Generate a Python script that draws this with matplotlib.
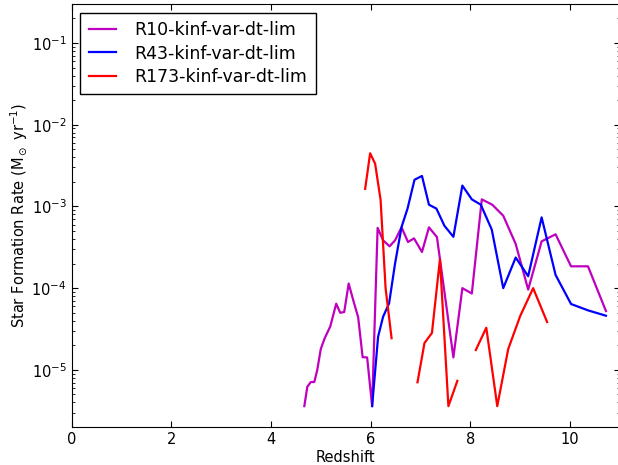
import numpy as np
import matplotlib
matplotlib.use("Agg")
import matplotlib.pyplot as plt

nan = np.nan

# R10-kinf-var-dt-lim
r10_z = [4.67, 4.73, 4.80, 4.87, 4.93, 5.00, 5.08, 5.19, 5.31, 5.39, 5.47, 5.56,
         5.65, 5.75, 5.84, 5.93, 6.03, 6.14, 6.25, 6.38, 6.49, 6.62, 6.75, 6.87,
         7.03, 7.17, 7.33, 7.66, 7.84, 8.03, 8.23, 8.44, 8.66, 8.91, 9.16, 9.43,
         9.71, 10.02, 10.36, 10.72]
r10_sfr = [3.6e-6, 6.2e-6, 7.1e-6, 7.1e-6, 1.0e-5, 1.8e-5, 2.45e-5, 3.4e-5, 6.45e-5,
           5.0e-5, 5.1e-5, 1.14e-4, 7.15e-5, 4.4e-5, 1.43e-5, 1.42e-5, 3.6e-6,
           5.47e-4, 3.85e-4, 3.25e-4, 3.85e-4, 5.55e-4, 3.67e-4, 4.07e-4, 2.77e-4,
           5.55e-4, 4.22e-4, 1.42e-5, 1.0e-4, 8.6e-5, 1.22e-3, 1.05e-3, 7.7e-4,
           3.47e-4, 9.6e-5, 3.74e-4, 4.56e-4, 1.85e-4, 1.85e-4, 5.25e-5]

# R43-kinf-var-dt-lim
r43_z = [6.03, 6.15, 6.25, 6.37, 6.49, 6.62, 6.74, 6.88, 7.03, 7.17, 7.32, 7.48,
         7.66, 7.84, 8.03, 8.21, 8.43, 8.66, 8.91, 9.16, 9.43, 9.71, 10.02, 10.36,
         10.72]
r43_sfr = [3.6e-6, 2.55e-5, 4.47e-5, 6.5e-5, 2.0e-4, 5.6e-4, 9.4e-4, 2.12e-3, 2.36e-3,
           1.05e-3, 9.4e-4, 5.8e-4, 4.25e-4, 1.8e-3, 1.22e-3, 1.05e-3, 5.2e-4, 1.0e-4,
           2.37e-4, 1.4e-4, 7.35e-4, 1.45e-4, 6.4e-5, 5.35e-5, 4.6e-5]

# R173-kinf-var-dt-lim (gaps where there is no star formation)
r173_z = [5.89, 5.99, 6.09, 6.20, 6.30, 6.42, 6.70, 6.94, 7.08, 7.23, 7.39, 7.56,
          7.74, 7.95, 8.11, 8.32, 8.54, 8.76, 9.00, 9.26, 9.54]
r173_sfr = [1.64e-3, 4.47e-3, 3.34e-3, 1.2e-3, 1.0e-4, 2.44e-5, nan, 7.05e-6, 2.13e-5,
            2.83e-5, 2.26e-4, 3.6e-6, 7.35e-6, nan, 1.75e-5, 3.28e-5, 3.6e-6, 1.8e-5,
            4.56e-5, 1.0e-4, 3.85e-5]

plt.rcParams['font.size'] = 10.5
plt.rcParams['xtick.direction'] = 'in'
plt.rcParams['ytick.direction'] = 'in'
plt.rcParams['xtick.top'] = True
plt.rcParams['ytick.right'] = True
plt.rcParams['xtick.major.size'] = 4
plt.rcParams['ytick.major.size'] = 4
plt.rcParams['xtick.minor.size'] = 2
plt.rcParams['ytick.minor.size'] = 2

fig = plt.figure(figsize=(6.18, 4.65), dpi=100)
ax = fig.add_axes([71.5 / 618, 38 / 465, 548.4 / 618, 423 / 465])

ax.plot(r10_z, r10_sfr, color='#bf00bf', lw=1.6, label='R10-kinf-var-dt-lim')
ax.plot(r43_z, r43_sfr, color='#0000ff', lw=1.6, label='R43-kinf-var-dt-lim')
ax.plot(r173_z, r173_sfr, color='#ff0000', lw=1.6, label='R173-kinf-var-dt-lim')

ax.set_yscale('log')
ax.set_xlim(0, 11)
ax.set_ylim(2e-6, 0.3)
ax.set_xticks([0, 2, 4, 6, 8, 10])

ax.set_xlabel('Redshift', labelpad=2)
ax.set_ylabel(r'Star Formation Rate (M$_\odot$ yr$^{-1}$)', labelpad=1)

leg = ax.legend(loc='upper left', fontsize=12.5, fancybox=False, framealpha=1,
                edgecolor='black', borderaxespad=0.5, borderpad=0.5,
                handlelength=1.55, handletextpad=1.05, labelspacing=0.3)
leg.get_frame().set_linewidth(1.0)

fig.savefig('out.png', dpi=100)
